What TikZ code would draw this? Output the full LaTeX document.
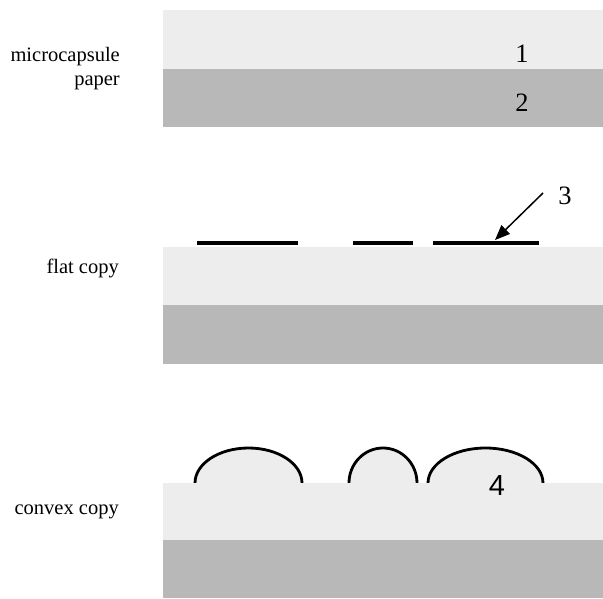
\documentclass[tikz,border=0pt]{standalone}
\usepackage{fontspec}
\setmainfont{Liberation Serif}
\newfontfamily\numsans{Liberation Sans}
\usetikzlibrary{arrows.meta}
\definecolor{coatgray}{HTML}{EDEDED}
\definecolor{basegray}{HTML}{B8B8B8}
\tikzset{
  coat/.style={fill=coatgray, draw=none},
  base/.style={fill=basegray, draw=none},
  caption/.style={inner sep=0pt, align=right, anchor=east,
    font=\fontsize{20.5}{24}\selectfont},
  numlabel/.style={inner sep=0pt, anchor=base,
    font=\fontsize{26.5}{30}\selectfont},
  toner/.style={line width=4pt, black},
  swell/.style={line width=2.8pt, black, fill=coatgray},
  pointer/.style={line width=1.5pt, -{Triangle[length=15pt,width=12pt]}}
}
\begin{document}
\begin{tikzpicture}[x=1pt, y=-1pt]
\useasboundingbox (0,0) rectangle (603,599);

% ---- microcapsule paper ----
\fill[coat] (163,10) rectangle (603,69);
\fill[base] (163,69) rectangle (603,127);
\node[caption] (lblpaper) at (120,69) {microcapsule\\paper};
\node[numlabel] (n1) at (522,63) {1};
\node[numlabel] (n2) at (522,112) {2};

% ---- flat copy ----
\fill[coat] (163,247) rectangle (603,305);
\fill[base] (163,305) rectangle (603,364);
\draw[toner] (197,243) -- (298,243);
\draw[toner] (353,243) -- (413,243);
\draw[toner] (433,243) -- (539,243);
\node[caption] (lblflat) at (119,268) {flat copy};
\node[numlabel] (n3) at (565,205) {3};
\coordinate (tail3) at (543,193);
\coordinate (tip3) at (495,240);
\draw[pointer] (tail3) -- (tip3);

% ---- convex copy (y axis points down, so the upper half runs 180 -> 360) ----
\draw[swell] (195,483) arc[start angle=180, end angle=360, x radius=53.5, y radius=35];
\draw[swell] (349,483) arc[start angle=180, end angle=360, x radius=34, y radius=35];
\draw[swell] (428,483) arc[start angle=180, end angle=360, x radius=57.5, y radius=35];
\fill[coat] (163,483) rectangle (603,540);
\fill[base] (163,540) rectangle (603,598);
\node[caption] (lblconvex) at (119,512) {convex copy};
\node[numlabel, font=\numsans\fontsize{29}{32}\selectfont] (n4) at (497,495) {4};
\end{tikzpicture}
\end{document}
